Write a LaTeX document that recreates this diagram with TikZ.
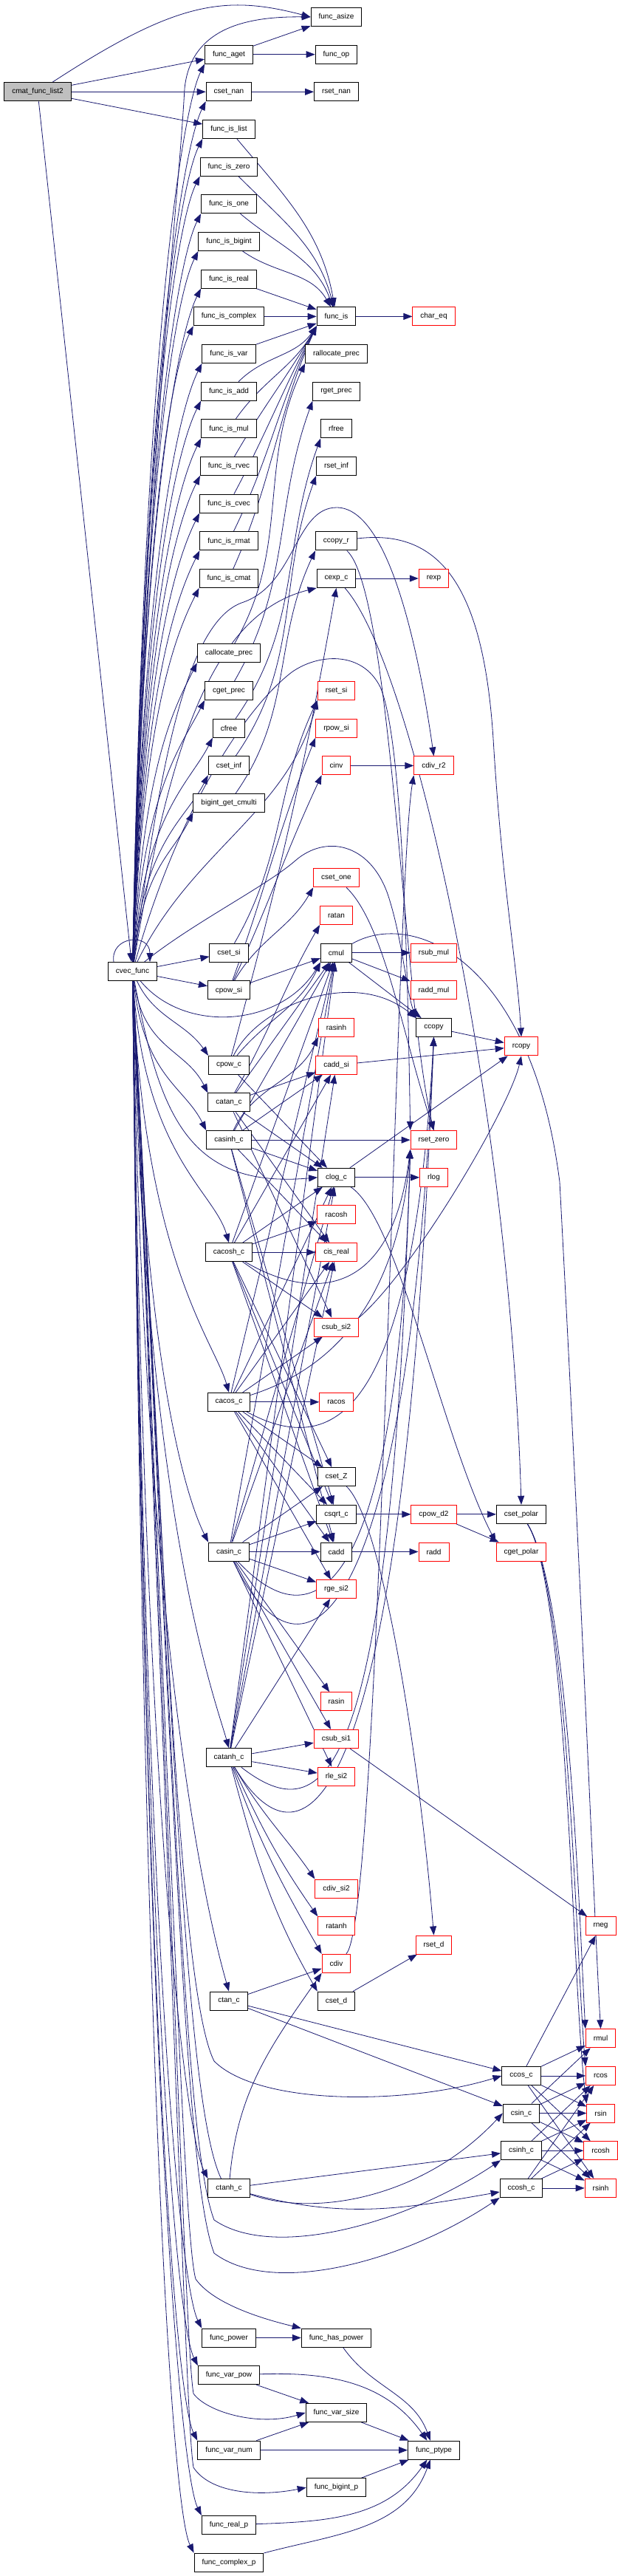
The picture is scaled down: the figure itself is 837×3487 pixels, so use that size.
\documentclass[tikz,border=0pt]{standalone}
\usepackage{fontspec}
\setmainfont{Liberation Sans}
\usetikzlibrary{arrows.meta}
\definecolor{edgeblue}{HTML}{191970}
\definecolor{rootgray}{HTML}{BFBFBF}
\definecolor{cutred}{HTML}{FF0000}
\pgfdeclarelayer{edges}
\pgfsetlayers{edges,main}

\begin{document}
\begin{tikzpicture}[x=1pt, y=1pt,
    fn/.style={rectangle, draw=black, fill=white, line width=1pt, inner xsep=10.5pt, inner ysep=0pt, minimum height=25pt, font=\fontsize{10}{12}\selectfont},
    cut/.style={fn, draw=cutred},
    root/.style={fn, fill=rootgray},
    call/.style={draw=edgeblue, line width=0.8pt, -{Triangle[length=12pt, width=9pt]}}
]
    \useasboundingbox (0,0) rectangle (837,-3487);

    % caller and entry
    \node[root] (list2) at (51,-124.3) {cmat\_func\_list2};
    \node[fn] (cvec) at (179.5,-1315) {cvec\_func};

    % second column
    \node[fn] (aget) at (310,-73.7) {func\_aget};
    \node[fn] (csetnan) at (310,-124.3) {cset\_nan};
    \node[fn] (islist) at (310,-175) {func\_is\_list};
    \node[fn] (iszero) at (310,-225.7) {func\_is\_zero};
    \node[fn] (isone) at (310,-276.3) {func\_is\_one};
    \node[fn] (isbigint) at (310,-327) {func\_is\_bigint};
    \node[fn] (isreal) at (310,-377.7) {func\_is\_real};
    \node[fn] (iscomplex) at (310,-428.4) {func\_is\_complex};
    \node[fn] (isvar) at (310,-479) {func\_is\_var};
    \node[fn] (isadd) at (310,-529.7) {func\_is\_add};
    \node[fn] (ismul) at (310,-580.4) {func\_is\_mul};
    \node[fn] (isrvec) at (310,-631) {func\_is\_rvec};
    \node[fn] (iscvec) at (310,-681.7) {func\_is\_cvec};
    \node[fn] (isrmat) at (310,-732.4) {func\_is\_rmat};
    \node[fn] (iscmat) at (310,-783) {func\_is\_cmat};
    \node[fn] (callocprec) at (310,-884.4) {callocate\_prec};
    \node[fn] (cgetprec) at (310,-935) {cget\_prec};
    \node[fn] (cfree) at (310,-985.7) {cfree};
    \node[fn] (csetinf) at (310,-1036.4) {cset\_inf};
    \node[fn] (bigint) at (310,-1087) {bigint\_get\_cmulti};
    \node[fn] (csetsi) at (310,-1289.7) {cset\_si};
    \node[fn] (cpowsi) at (310,-1340.4) {cpow\_si};
    \node[fn] (cpowc) at (310,-1441.8) {cpow\_c};
    \node[fn] (catan) at (310,-1492.4) {catan\_c};
    \node[fn] (casinh) at (310,-1543.1) {casinh\_c};
    \node[fn] (cacosh) at (310,-1695.1) {cacosh\_c};
    \node[fn] (cacos) at (310,-1897.8) {cacos\_c};
    \node[fn] (casin) at (310,-2100.5) {casin\_c};
    \node[fn] (catanh) at (310,-2379.2) {catanh\_c};
    \node[fn] (ctan) at (310,-2708.5) {ctan\_c};
    \node[fn] (ctanh) at (310,-2961.9) {ctanh\_c};
    \node[fn] (fpower) at (310,-3164.5) {func\_power};
    \node[fn] (varpow) at (310,-3215.2) {func\_var\_pow};
    \node[fn] (varnum) at (310,-3316.6) {func\_var\_num};
    \node[fn] (realp) at (310,-3417.9) {func\_real\_p};
    \node[fn] (complexp) at (310,-3468.6) {func\_complex\_p};

    % third column
    \node[fn] (asize) at (455.5,-23) {func\_asize};
    \node[fn] (op) at (455.5,-73.7) {func\_op};
    \node[fn] (rsetnan) at (455.5,-124.3) {rset\_nan};
    \node[fn] (is) at (455.5,-428.4) {func\_is};
    \node[fn] (rallocprec) at (455.5,-479) {rallocate\_prec};
    \node[fn] (rgetprec) at (455.5,-529.7) {rget\_prec};
    \node[fn] (rfree) at (455.5,-580.4) {rfree};
    \node[fn] (rsetinf) at (455.5,-631) {rset\_inf};
    \node[fn] (ccopyr) at (455.5,-732.4) {ccopy\_r};
    \node[fn] (cexp) at (455.5,-783) {cexp\_c};
    \node[cut] (rsetsi) at (455.5,-935) {rset\_si};
    \node[cut] (rpowsi) at (455.5,-985.7) {rpow\_si};
    \node[cut] (cinv) at (455.5,-1036.4) {cinv};
    \node[cut] (csetone) at (455.5,-1188.4) {cset\_one};
    \node[cut] (ratan) at (455.5,-1239) {ratan};
    \node[fn] (cmul) at (455.5,-1289.7) {cmul};
    \node[cut] (rasinh) at (455.5,-1391) {rasinh};
    \node[cut] (caddsi) at (455.5,-1441.8) {cadd\_si};
    \node[fn] (clog) at (455.5,-1593.8) {clog\_c};
    \node[cut] (racosh) at (455.5,-1644.4) {racosh};
    \node[cut] (cisreal) at (455.5,-1695.1) {cis\_real};
    \node[cut] (csubsitwo) at (455.5,-1796.5) {csub\_si2};
    \node[cut] (racos) at (455.5,-1897.8) {racos};
    \node[fn] (csetZ) at (455.5,-1999.1) {cset\_Z};
    \node[fn] (csqrt) at (455.5,-2049.8) {csqrt\_c};
    \node[fn] (cadd) at (455.5,-2100.5) {cadd};
    \node[cut] (rgesi) at (455.5,-2151.1) {rge\_si2};
    \node[cut] (rasin) at (455.5,-2303.2) {rasin};
    \node[cut] (csubsione) at (455.5,-2353.8) {csub\_si1};
    \node[cut] (rlesi) at (455.5,-2404.5) {rle\_si2};
    \node[cut] (cdivsi) at (455.5,-2556.5) {cdiv\_si2};
    \node[cut] (ratanh) at (455.5,-2607.2) {ratanh};
    \node[cut] (cdiv) at (455.5,-2657.8) {cdiv};
    \node[fn] (csetd) at (455.5,-2708.5) {cset\_d};
    \node[fn] (haspower) at (455.5,-3164.5) {func\_has\_power};
    \node[fn] (varsize) at (455.5,-3265.9) {func\_var\_size};
    \node[fn] (bigintp) at (455.5,-3367.2) {func\_bigint\_p};

    % fourth column
    \node[cut] (chareq) at (587.5,-428.4) {char\_eq};
    \node[cut] (rexp) at (587.5,-783) {rexp};
    \node[cut] (cdivrtwo) at (587.5,-1036.4) {cdiv\_r2};
    \node[cut] (rsubmul) at (587.5,-1289.7) {rsub\_mul};
    \node[cut] (raddmul) at (587.5,-1340.4) {radd\_mul};
    \node[fn] (ccopy) at (587.5,-1391) {ccopy};
    \node[cut] (rsetzero) at (587.5,-1543.1) {rset\_zero};
    \node[cut] (rlog) at (587.5,-1593.8) {rlog};
    \node[cut] (cpowd) at (587.5,-2049.8) {cpow\_d2};
    \node[cut] (radd) at (587.5,-2100.5) {radd};
    \node[cut] (rsetd) at (587.5,-2632.5) {rset\_d};
    \node[fn] (ptype) at (587.5,-3316.6) {func\_ptype};

    % fifth column
    \node[cut] (rcopy) at (706,-1416.4) {rcopy};
    \node[fn] (csetpolar) at (706,-2049.8) {cset\_polar};
    \node[cut] (cgetpolar) at (706,-2100.5) {cget\_polar};
    \node[fn] (ccos) at (706,-2809.9) {ccos\_c};
    \node[fn] (csin) at (706,-2860.5) {csin\_c};
    \node[fn] (csinh) at (706,-2911.2) {csinh\_c};
    \node[fn] (ccosh) at (706,-2961.9) {ccosh\_c};

    % sixth column
    \node[cut] (rneg) at (813.5,-2607.2) {rneg};
    \node[cut] (rmul) at (813.5,-2759.2) {rmul};
    \node[cut] (rcos) at (813.5,-2809.9) {rcos};
    \node[cut] (rsin) at (813.5,-2860.5) {rsin};
    \node[cut] (rcosh) at (813.5,-2911.2) {rcosh};
    \node[cut] (rsinh) at (813.5,-2961.9) {rsinh};

    \begin{pgfonlayer}{edges}
    % calls of cmat_func_list2
    \draw[call] (list2) .. controls (237,-3) and (303,8) .. (asize.west);
    \draw[call] (list2) -- (aget);
    \draw[call] (list2) -- (csetnan);
    \draw[call] (list2) -- (islist);
    \draw[call] (list2) -- (cvec);

    \draw[call] (aget) -- (asize);
    \draw[call] (aget) -- (op);
    \draw[call] (csetnan) -- (rsetnan);

    \draw[call] (islist) to[out=-50,in=100] (is);
    \draw[call] (iszero) to[out=-45,in=105] (is);
    \draw[call] (isone) to[out=-40,in=110] (is);
    \draw[call] (isbigint) to[out=-35,in=120] (is);
    \draw[call] (isreal) -- (is);
    \draw[call] (iscomplex) -- (is);
    \draw[call] (isvar) -- (is);
    \draw[call] (isadd) to[out=45,in=-125] (is.south west);
    \draw[call] (ismul) to[out=55,in=-120] (is.south west);
    \draw[call] (isrvec) to[out=60,in=-120] (is.south west);
    \draw[call] (iscvec) to[out=62,in=-118] (is.south west);
    \draw[call] (isrmat) to[out=64,in=-116] (is.south west);
    \draw[call] (iscmat) to[out=66,in=-114] (is.south west);
    \draw[call] (is) -- (chareq);

    \draw[call] (callocprec) to[out=60,in=-115] (rallocprec.south west);
    \draw[call] (cgetprec) to[out=60,in=-110] (rgetprec.south west);
    \draw[call] (cfree) to[out=55,in=-110] (rfree.south west);
    \draw[call] (csetinf) to[out=55,in=-110] (rsetinf.south west);
    \draw[call] (bigint) to[out=55,in=-115] (ccopyr.south west);
    \draw[call] (csetsi) to[out=60,in=-115] (rsetsi.south west);

    % calls of cvec_func, upwards
    \draw[call] ([xshift=8pt]cvec.north west) .. controls +(-5,35) and +(0,40) .. ([xshift=-10pt]cvec.north east);
    \draw[call] (cvec) .. controls +(20,700) and (240,-300) .. (250,-120) .. controls (258,-40) and (330,-22) .. (asize.west);
    \draw[call] (cvec) .. controls +(15,851) and +(-30,-60) .. (aget.south west);
    \draw[call] (cvec) .. controls +(15,815) and +(-30,-60) .. (csetnan.south west);
    \draw[call] (cvec) .. controls +(15,780) and +(-30,-60) .. (islist.south west);
    \draw[call] (cvec) .. controls +(15,745) and +(-30,-60) .. (iszero.south west);
    \draw[call] (cvec) .. controls +(15,709) and +(-30,-60) .. (isone.south west);
    \draw[call] (cvec) .. controls +(15,674) and +(-30,-60) .. (isbigint.south west);
    \draw[call] (cvec) .. controls +(15,638) and +(-30,-60) .. (isreal.south west);
    \draw[call] (cvec) .. controls +(15,603) and +(-30,-60) .. (iscomplex.south west);
    \draw[call] (cvec) .. controls +(15,567) and +(-30,-60) .. (isvar.south west);
    \draw[call] (cvec) .. controls +(15,532) and +(-30,-60) .. (isadd.south west);
    \draw[call] (cvec) .. controls +(15,496) and +(-30,-60) .. (ismul.south west);
    \draw[call] (cvec) .. controls +(15,461) and +(-30,-60) .. (isrvec.south west);
    \draw[call] (cvec) .. controls +(15,425) and +(-30,-60) .. (iscvec.south west);
    \draw[call] (cvec) .. controls +(15,390) and +(-30,-60) .. (isrmat.south west);
    \draw[call] (cvec) .. controls +(15,354) and +(-30,-60) .. (iscmat.south west);
    \draw[call] (cvec) .. controls +(15,283) and +(-30,-60) .. (callocprec.south west);
    \draw[call] (cvec) .. controls +(15,248) and +(-30,-60) .. (cgetprec.south west);
    \draw[call] (cvec) .. controls +(15,212) and +(-30,-60) .. (cfree.south west);
    \draw[call] (cvec) .. controls +(15,177) and +(-30,-60) .. (csetinf.south west);
    \draw[call] (cvec) .. controls +(15,142) and +(-30,-60) .. (bigint.south west);
    \draw[call] (cvec) -- (csetsi);
    \draw[call] (cvec) -- (cpowsi);
    \draw[call] (cvec) .. controls (260,-1150) and (390,-1100) .. (rsetsi.south west);
    \draw[call] (cvec) .. controls (230,-1000) and (290,-830) .. (cexp.south west);
    \draw[call] (cvec) .. controls (215,-1050) and (250,-840) .. (330,-815) .. controls (400,-790) and (400,-687) .. (456,-687) .. controls (530,-687) and (570,-900) .. (cdivrtwo.north);
    \draw[call] (cvec) .. controls (240,-1100) and (330,-960) .. (395,-910) .. controls (430,-885) and (490,-880) .. (515,-930) .. controls (545,-1000) and (552,-1300) .. (rsetzero.north west);
    \draw[call] (cvec) .. controls (260,-1250) and (360,-1200) .. (400,-1165) .. controls (440,-1130) and (500,-1140) .. (525,-1210) .. controls (545,-1270) and (550,-1340) .. (ccopy.north west);
    \draw[call] (cvec) .. controls (250,-1400) and (380,-1390) .. (cmul.south west);
    \draw[call] (cvec) .. controls (215,-1500) and (250,-1610) .. (clog.west);

    % calls of cvec_func, downwards
    \draw[call] (cvec) to[out=-65,in=125] (cpowc.north west);
    \draw[call] (cvec) .. controls +(15,-106) and +(-30,60) .. (catan.north west);
    \draw[call] (cvec) .. controls +(15,-142) and +(-30,60) .. (casinh.north west);
    \draw[call] (cvec) .. controls +(15,-248) and +(-20,70) .. (cacosh.north);
    \draw[call] (cvec) .. controls +(15,-390) and +(-20,70) .. (cacos.north);
    \draw[call] (cvec) .. controls +(15,-532) and +(-30,60) .. (casin.north west);
    \draw[call] (cvec) .. controls +(15,-727) and +(-20,70) .. (catanh.north);
    \draw[call] (cvec) .. controls +(15,-957) and +(-20,70) .. (ctan.north);
    \draw[call] (cvec) .. controls +(15,-1135) and +(-30,60) .. (ctanh.north west);
    \draw[call] (cvec) .. controls +(15,-1277) and +(-30,60) .. (fpower.north west);
    \draw[call] (cvec) .. controls +(15,-1312) and +(-30,60) .. (varpow.north west);
    \draw[call] (cvec) .. controls +(15,-1383) and +(-30,60) .. (varnum.north west);
    \draw[call] (cvec) .. controls +(15,-1454) and +(-30,60) .. (realp.north west);
    \draw[call] (cvec) .. controls +(15,-1490) and +(-30,60) .. (complexp.north west);
    \draw[call] (cvec) .. controls (225,-2200) and (245,-2700) .. (290,-2790) .. controls (350,-2850) and (550,-2850) .. (ccos.west);
    \draw[call] (cvec) .. controls (232,-2300) and (250,-2850) .. (300,-2950) .. controls (380,-3010) and (560,-2990) .. (csin.west);
    \draw[call] (cvec) .. controls (235,-2400) and (250,-2900) .. (290,-3005) .. controls (370,-3060) and (550,-3010) .. (csinh.south west);
    \draw[call] (cvec) .. controls (238,-2500) and (252,-2950) .. (290,-3050) .. controls (370,-3110) and (550,-3060) .. (ccosh.south west);
    \draw[call] (cvec) .. controls (236,-2600) and (250,-3030) .. (265,-3085) .. controls (290,-3120) and (360,-3140) .. (haspower.north west);
    \draw[call] (cvec) .. controls (238,-2700) and (252,-3180) .. (262,-3240) .. controls (280,-3265) and (350,-3285) .. (varsize.west);
    \draw[call] (cvec) .. controls (240,-2800) and (252,-3280) .. (262,-3340) .. controls (285,-3375) and (350,-3380) .. (bigintp.west);

    % complex powers
    \draw[call] (cpowsi) -- (cmul);
    \draw[call] (cpowsi) to[out=60,in=-120] (csetone.south west);
    \draw[call] (cpowsi) to[out=65,in=-115] (cinv.south west);
    \draw[call] (cpowsi) to[out=70,in=-112] (rpowsi.south west);
    \draw[call] (cpowc) to[out=50,in=-115] (cmul.south west);
    \draw[call] (cpowc) -- (clog);
    \draw[call] (cpowc) to[out=75,in=-100] (cexp.south);
    \draw[call] (cpowc) .. controls (350,-1360) and (480,-1310) .. (ccopy.north west);

    % inverse functions
    \draw[call] (catan) to[out=60,in=-120] (ratan.south west);
    \draw[call] (catan) -- (cmul);
    \draw[call] (catan) -- (caddsi);
    \draw[call] (catan) -- (clog);
    \draw[call] (catan) -- (cisreal);
    \draw[call] (catan) -- (csubsitwo);

    \draw[call] (casinh) to[out=65,in=-115] (rasinh.south west);
    \draw[call] (casinh) -- (rsetzero);
    \draw[call] (casinh) -- (clog);
    \draw[call] (casinh) -- (cisreal);
    \draw[call] (casinh) -- (cmul);
    \draw[call] (casinh) -- (caddsi);
    \draw[call] (casinh) -- (csqrt);
    \draw[call] (casinh) -- (cadd);

    \draw[call] (cacosh) -- (racosh);
    \draw[call] (cacosh) -- (cisreal);
    \draw[call] (cacosh) -- (clog);
    \draw[call] (cacosh) -- (cmul);
    \draw[call] (cacosh) -- (caddsi);
    \draw[call] (cacosh) -- (csubsitwo);
    \draw[call] (cacosh) -- (csetZ);
    \draw[call] (cacosh) -- (csqrt);
    \draw[call] (cacosh) -- (cadd);
    \draw[call] (cacosh) .. controls (420,-1760) and (530,-1760) .. (rsetzero.south west);

    \draw[call] (cacos) -- (racos);
    \draw[call] (cacos) -- (csubsitwo);
    \draw[call] (cacos) -- (clog);
    \draw[call] (cacos) -- (cmul);
    \draw[call] (cacos) -- (cisreal);
    \draw[call] (cacos) -- (csetZ);
    \draw[call] (cacos) -- (csqrt);
    \draw[call] (cacos) -- (cadd);
    \draw[call] (cacos) -- (rgesi);
    \draw[call] (cacos) .. controls (460,-1850) and (540,-1750) .. (rsetzero.south west);
    \draw[call] (cacos) .. controls (460,-1980) and (560,-1900) .. (ccopy.south);

    \draw[call] (casin) -- (rasin);
    \draw[call] (casin) -- (csqrt);
    \draw[call] (casin) -- (cadd);
    \draw[call] (casin) -- (rgesi);
    \draw[call] (casin) -- (clog);
    \draw[call] (casin) -- (cmul);
    \draw[call] (casin) -- (cisreal);
    \draw[call] (casin) -- (csetZ);
    \draw[call] (casin) -- (csubsione);
    \draw[call] (casin) -- (rlesi);
    \draw[call] (casin) .. controls (430,-2230) and (540,-2150) .. (rsetzero.south west);
    \draw[call] (casin) .. controls (400,-2290) and (550,-2250) .. (ccopy.south);

    \draw[call] (catanh) to[out=-65,in=125] (ratanh.north west);
    \draw[call] (catanh) -- (csubsione);
    \draw[call] (catanh) -- (rlesi);
    \draw[call] (catanh) to[out=-60,in=125] (cdivsi.north west);
    \draw[call] (catanh) -- (rgesi);
    \draw[call] (catanh) to[out=-70,in=120] (cdiv.north west);
    \draw[call] (catanh) to[out=-75,in=120] (csetd.north west);
    \draw[call] (catanh) -- (clog);
    \draw[call] (catanh) -- (cmul);
    \draw[call] (catanh) -- (cisreal);
    \draw[call] (catanh) -- (caddsi);
    \draw[call] (catanh) .. controls (440,-2480) and (530,-2420) .. (rsetzero.south west);
    \draw[call] (catanh) .. controls (400,-2530) and (545,-2520) .. (ccopy.south);

    % tangents
    \draw[call] (ctan) -- (cdiv);
    \draw[call] (ctan) -- (ccos);
    \draw[call] (ctan) -- (csin);
    \draw[call] (ctanh) to[out=85,in=-125] (cdiv.south west);
    \draw[call] (ctanh) -- (csinh);
    \draw[call] (ctanh) to[out=-15,in=190] (ccosh);

    % real helpers
    \draw[call] (cmul) -- (rsubmul);
    \draw[call] (cmul) -- (raddmul);
    \draw[call] (cmul) -- (ccopy);
    \draw[call] (cmul) .. controls (560,-1230) and (720,-1300) .. (758,-1600) .. controls (790,-2200) and (805,-2600) .. (rmul.north);
    \draw[call] (ccopy) -- (rcopy);
    \draw[call] (caddsi) -- (rcopy);
    \draw[call] (clog) -- (rcopy);
    \draw[call] (csubsitwo.north east) .. controls (560,-1720) and (690,-1500) .. (rcopy.south);
    \draw[call] (clog) -- (rlog);
    \draw[call] (clog) .. controls (540,-1650) and (600,-1950) .. (cgetpolar.north west);
    \draw[call] (cexp) -- (rexp);
    \draw[call] (cexp) .. controls (560,-900) and (690,-1500) .. (csetpolar.north);
    \draw[call] (ccopyr) .. controls (600,-715) and (655,-800) .. (668,-1000) .. controls (680,-1200) and (700,-1300) .. (rcopy.north);
    \draw[call] (ccopyr) .. controls (530,-800) and (545,-1350) .. (rsetzero.north);
    \draw[call] (csetone) .. controls (520,-1250) and (545,-1400) .. (rsetzero.north);
    \draw[call] (cinv) -- (cdivrtwo);
    \draw[call] (cdiv) .. controls (515,-2600) and (535,-1200) .. (cdivrtwo.south west);
    \draw[call] (csqrt) -- (cpowd);
    \draw[call] (cpowd) -- (csetpolar);
    \draw[call] (cpowd) -- (cgetpolar);
    \draw[call] (cadd) -- (radd);
    \draw[call] (csubsione) -- (rneg);
    \draw[call] (csetZ) .. controls (520,-2060) and (570,-2400) .. (rsetd.north);
    \draw[call] (csetd) -- (rsetd);
    \draw[call] (csetpolar) .. controls (770,-2150) and (785,-2600) .. (rmul.north west);
    \draw[call] (csetpolar) .. controls (770,-2150) and (780,-2650) .. (rcos.north west);
    \draw[call] (csetpolar) .. controls (770,-2150) and (775,-2700) .. (rsin.north west);

    % trigonometric and hyperbolic
    \draw[call] (ccos) -- (rneg);
    \draw[call] (ccos) -- (rmul);
    \draw[call] (ccos) -- (rcos);
    \draw[call] (ccos) -- (rsin);
    \draw[call] (ccos) -- (rcosh);
    \draw[call] (ccos) -- (rsinh);
    \draw[call] (csin) -- (rmul);
    \draw[call] (csin) -- (rcos);
    \draw[call] (csin) -- (rsin);
    \draw[call] (csin) -- (rcosh);
    \draw[call] (csin) -- (rsinh);
    \draw[call] (csinh) -- (rcos);
    \draw[call] (csinh) -- (rsin);
    \draw[call] (csinh) -- (rcosh);
    \draw[call] (csinh) -- (rsinh);
    \draw[call] (ccosh) -- (rcos);
    \draw[call] (ccosh) -- (rsin);
    \draw[call] (ccosh) -- (rcosh);
    \draw[call] (ccosh) -- (rsinh);

    % func_* helpers
    \draw[call] (fpower) -- (haspower);
    \draw[call] (haspower) to[out=-55,in=110] (ptype);
    \draw[call] (varpow) -- (varsize);
    \draw[call] (varpow) to[out=2,in=125] (ptype);
    \draw[call] (varnum) -- (varsize);
    \draw[call] (varnum) -- (ptype);
    \draw[call] (varsize) -- (ptype);
    \draw[call] (bigintp) -- (ptype);
    \draw[call] (realp) to[out=2,in=-125] (ptype);
    \draw[call] (complexp) to[out=15,in=-110] (ptype);
    \end{pgfonlayer}
\end{tikzpicture}
\end{document}
